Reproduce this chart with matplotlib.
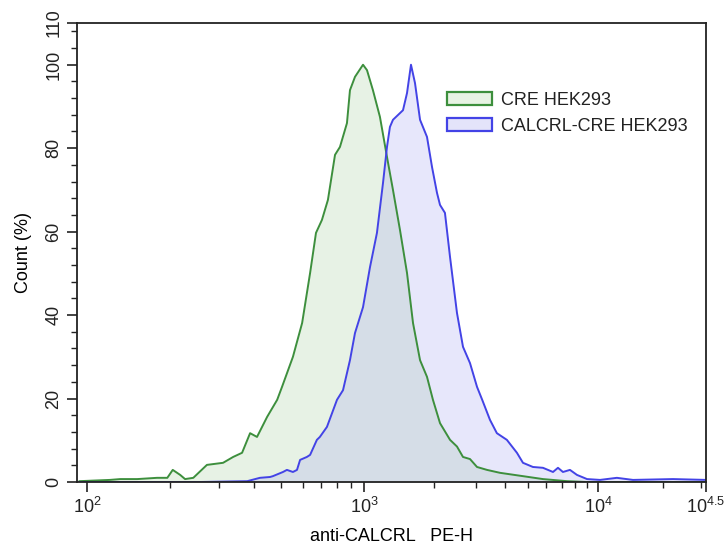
import matplotlib
matplotlib.use("Agg")
import matplotlib.pyplot as plt
import numpy as np
from matplotlib.patches import Patch
from matplotlib.ticker import FixedLocator, MultipleLocator

plt.rcParams.update({
    "font.family": ["Liberation Sans", "DejaVu Sans"],
    "font.size": 13,
    "mathtext.fontset": "custom",
    "mathtext.rm": "Liberation Sans",
    "mathtext.it": "Liberation Sans:italic",
    "text.color": "#222222",
    "xtick.color": "#222222",
    "ytick.color": "#222222",
})

# CRE HEK293 (green)
green_x = [94, 121, 132, 152, 179, 195, 204, 217, 226, 242, 271, 310, 337, 363, 388,
           411, 447, 486, 506, 554, 598, 639, 671, 705, 741, 786, 819, 868, 890, 928,
           992, 1030, 1092, 1170, 1254, 1330, 1425, 1527, 1620, 1736, 1859, 1971, 2113,
           2332, 2497, 2649, 2838, 3041, 3355, 3812, 4779, 5818, 7376, 8979, 10200, 31623]
green_y = [0.2, 0.5, 0.7, 0.7, 1.0, 1.0, 2.9, 1.7, 0.7, 1.0, 4.1, 4.6, 6.0, 7.0, 11.7,
           10.8, 15.6, 19.7, 22.8, 30.0, 38.1, 50.1, 59.7, 62.8, 67.6, 78.4, 80.3, 86.0, 93.9, 97.1,
           100.0, 98.7, 93.9, 87.5, 77.9, 70.0, 60.4, 50.1, 38.1, 29.2, 25.2, 19.7, 14.1,
           10.1, 8.5, 6.0, 5.5, 3.6, 2.9, 2.2, 1.4, 0.7, 0.2, 0.0, 0.0, 0.0]

# CALCRL-CRE HEK293 (blue)
blue_x = [94, 256, 379, 421, 458, 469, 510, 527, 554, 573, 588, 622, 639, 676, 693, 735,
          799, 840, 890, 928, 992, 1061, 1136, 1206, 1254, 1291, 1330, 1468, 1527, 1588,
          1652, 1736, 1859, 1953, 2051, 2113, 2218, 2332, 2497, 2649, 2838, 3041, 3200,
          3454, 3697, 4079, 4504, 4779, 5272, 5818, 6423, 6745, 7083, 7590, 8130, 8979,
          10220, 12230, 14520, 22230, 31623]
blue_y = [0.0, 0.0, 0.2, 1.0, 1.2, 1.4, 2.4, 2.9, 2.4, 2.9, 5.3, 6.0, 6.5, 10.1, 10.8, 13.2,
          19.7, 22.0, 29.2, 35.7, 41.9, 51.5, 59.7, 71.7, 80.3, 85.1, 86.8, 89.1, 93.2, 100.0,
          95.6, 86.8, 82.7, 75.5, 69.3, 66.4, 64.5, 53.9, 40.5, 32.4, 28.5, 22.8, 19.7,
          14.9, 11.7, 10.1, 7.0, 4.6, 3.6, 3.4, 2.4, 3.4, 2.4, 2.9, 1.7, 0.7,
          0.5, 1.0, 0.5, 0.7, 0.5]

labels = ["CRE HEK293", "CALCRL-CRE HEK293"]
x_major = [1e2, 1e3, 1e4, 10 ** 4.5]
x_major_labels = ["$10^{2}$", "$10^{3}$", "$10^{4}$", "$10^{4.5}$"]
x_minor = [k * 10 ** d for d in (2, 3) for k in range(2, 10)] + [2e4, 3e4]

# display axis: decades are not equally wide
LOG_PTS = [1, 2, 3, 4, 4.5, 6]
POS_PTS = [-277, 0, 277, 511, 619, 943]


def fwd(x):
    x = np.clip(np.asarray(x, dtype=float), 1e-6, None)
    return np.interp(np.log10(x), LOG_PTS, POS_PTS)


def inv(p):
    return 10 ** np.interp(np.asarray(p, dtype=float), POS_PTS, LOG_PTS)


green_line = "#3d8f3d"
blue_line = "#4343e6"
green_fill = "#96c88c"
blue_fill = "#9696f0"

fig = plt.figure(figsize=(7.28, 5.52), dpi=100)
ax = fig.add_axes([77 / 728, 1 - 482 / 552, 629 / 728, 459 / 552])
ax.set_xscale("function", functions=(fwd, inv))

ax.fill_between(green_x, green_y, color=green_fill, alpha=0.22, lw=0)
ax.fill_between(blue_x, blue_y, color=blue_fill, alpha=0.22, lw=0)
ax.plot(green_x, green_y, color=green_line, lw=1.4)
ax.plot(blue_x, blue_y, color=blue_line, lw=1.4)

ax.set_xlim(10 ** 1.964, 10 ** 4.5)
ax.set_ylim(0, 110)
ax.xaxis.set_major_locator(FixedLocator(x_major))
ax.set_xticklabels(x_major_labels)
ax.xaxis.set_minor_locator(FixedLocator(x_minor))
ax.set_yticks([0, 20, 40, 60, 80, 100, 110])
ax.yaxis.set_minor_locator(MultipleLocator(4))
plt.setp(ax.get_yticklabels(), rotation=90, va="center")

ax.tick_params(which="major", length=7, width=1.2, direction="out")
ax.tick_params(which="minor", length=4, width=1.0, direction="out")
for s in ax.spines.values():
    s.set_linewidth(1.3)
    s.set_color("#222222")

ax.set_xlabel("anti-CALCRL   PE-H", labelpad=8)
ax.set_ylabel("Count (%)", labelpad=10)

handles = [Patch(facecolor="#e8f3e4", edgecolor=green_line, lw=1.6),
           Patch(facecolor="#e4e4fa", edgecolor=blue_line, lw=1.6)]
ax.legend(handles, labels, loc="upper left", bbox_to_anchor=(361 / 629, (482 - 83) / 459),
          frameon=False, borderpad=0, handlelength=2.5, handleheight=0.75,
          handletextpad=0.5, labelspacing=0.5, fontsize=13)

fig.savefig("out.png", dpi=100)
